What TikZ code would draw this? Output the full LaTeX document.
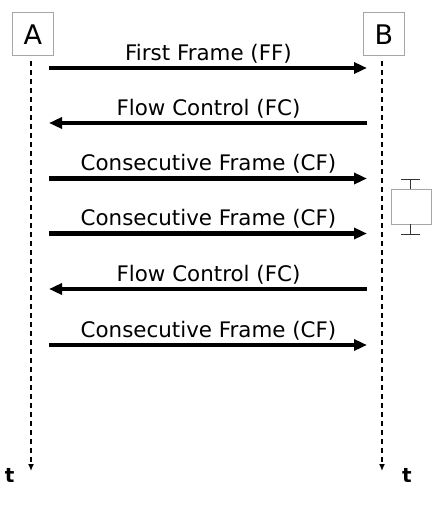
\documentclass[tikz,border=0pt]{standalone}
\usepackage{fontspec}
\setmainfont{DejaVu Sans}
\usetikzlibrary{arrows.meta}
\begin{document}
\begin{tikzpicture}[x=1pt,y=-1pt,
  party/.style={draw=gray!70,line width=0.8pt,minimum width=41pt,minimum height=43pt,inner sep=0pt},
  ptext/.style={font=\fontsize{27}{30}\selectfont,inner sep=0pt},
  life/.style={line width=1.5pt,dash pattern=on 5pt off 4pt,-{Latex[length=7pt,width=6pt]}},
  msg/.style={line width=4.2pt,-{Triangle[length=13pt,width=11pt]}},
  lbl/.style={font=\fontsize{21.4}{24}\selectfont,inner sep=0pt,anchor=base},
  tl/.style={font=\bfseries\fontsize{20}{22}\selectfont,inner sep=0pt}]
\useasboundingbox (0,0) rectangle (435,517);
\node[party] (A) at (32.8,34) {};
\node[party] (B) at (384,34) {};
\node[ptext] (Al) at (32.8,35) {A};
\node[ptext] (Bl) at (384,35) {B};
\coordinate (As) at (31,61);
\coordinate (Bs) at (382,61);
\coordinate (Ae) at (31,471);
\coordinate (Be) at (382,471);
\draw[life] (As) -- (Ae);
\draw[life] (Bs) -- (Be);
\node[tl] (tA) at (9.7,475) {t};
\node[tl] (tB) at (407,475) {t};
% message endpoints
\foreach \n/\y in {1/68,2/123,3/178.5,4/233.5,5/289,6/345}{
  \coordinate (L\n) at (49,\y);
  \coordinate (R\n) at (367,\y);
  \coordinate (T\n) at (208.5,\y-8);
}
\draw[msg] (L1) -- (R1);
\node[lbl] (m1) at (T1) {First Frame (FF)};
\draw[msg] (R2) -- (L2);
\node[lbl] (m2) at (T2) {Flow Control (FC)};
\draw[msg] (L3) -- (R3);
\node[lbl] (m3) at (T3) {Consecutive Frame (CF)};
\draw[msg] (L4) -- (R4);
\node[lbl] (m4) at (T4) {Consecutive Frame (CF)};
\draw[msg] (R5) -- (L5);
\node[lbl] (m5) at (T5) {Flow Control (FC)};
\draw[msg] (L6) -- (R6);
\node[lbl] (m6) at (T6) {Consecutive Frame (CF)};
% separation time box
\node[draw=gray!70,line width=0.8pt,minimum width=40pt,minimum height=35pt,inner sep=0pt] (st) at (411.5,206.5) {};
\coordinate (wt) at (410.5,179);
\coordinate (wb) at (410.5,234);
\draw[line width=1pt,black!80] (st.north -| wt) -- (wt) (401,179) -- (420,179);
\draw[line width=1pt,black!80] (st.south -| wb) -- (wb) (401,234) -- (420,234);
\end{tikzpicture}
\end{document}
